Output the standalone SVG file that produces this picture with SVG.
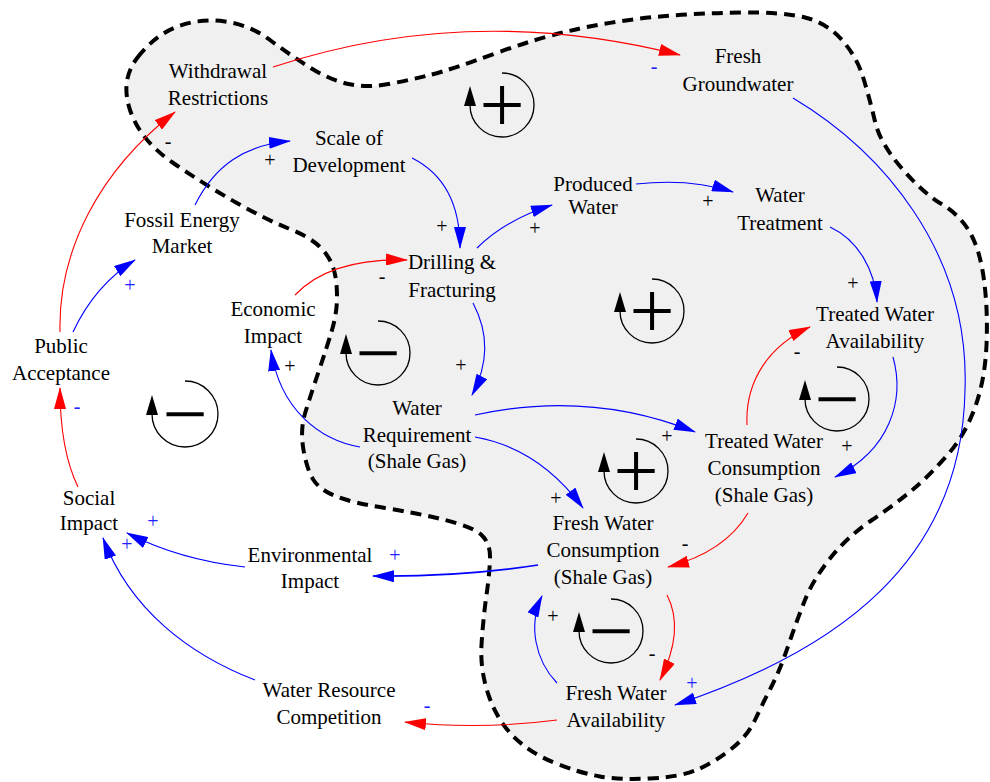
<svg xmlns="http://www.w3.org/2000/svg" width="990" height="782" viewBox="0 0 990 782">
<defs>
<marker id="ab" markerUnits="userSpaceOnUse" markerWidth="22" markerHeight="12" refX="21" refY="6" orient="auto"><path d="M0,0 L22,6 L0,12 Z" fill="#0000ff"/></marker>
<marker id="ar" markerUnits="userSpaceOnUse" markerWidth="22" markerHeight="12" refX="21" refY="6" orient="auto"><path d="M0,0 L22,6 L0,12 Z" fill="#ff0000"/></marker>
</defs>
<rect width="990" height="782" fill="#fff"/>
<path id="boundary" d="M137.5,57.5 Q155,35 177.5,26.5 Q200,18 225,21.5 Q250,25 270,40 Q290,55 310,67.5 Q330,80 348.5,84 Q367,88 388.5,84 Q410,80 430,75 Q450,70 495,53.5 Q540,37 580,28.5 Q620,20 660,16.5 Q700,13 741.5,12.5 Q783,12 805,17.5 Q827,23 842,40 Q857,57 863.5,78.5 Q870,100 875,121.5 Q880,143 901.5,168 Q923,193 941.5,204 Q960,215 970,232.5 Q980,250 984,280 Q988,310 986.5,345 Q985,380 975,407.5 Q965,435 947.5,455 Q930,475 913.5,489 Q897,503 872,520 Q847,537 830,558.5 Q813,580 805,600 Q797,620 788.5,645 Q780,670 771.5,686.5 Q763,703 755,720 Q747,737 730,750 Q713,763 696.5,770 Q680,777 650,778.5 Q620,780 600,776.5 Q580,773 555,763 Q530,753 513.5,736.5 Q497,720 488.5,695 Q480,670 481.5,645 Q483,620 486.5,595 Q490,570 490,556.5 Q490,543 481.5,535 Q473,527 445,520 Q417,513 385,508 Q353,503 336.5,496.5 Q320,490 313.5,480 Q307,470 303.5,450 Q300,430 305,413.5 Q310,397 318.5,372 Q327,347 332,330 Q337,313 337,296.5 Q337,280 333.5,268.5 Q330,257 320,247 Q310,237 288.5,228.5 Q267,220 236,202.5 Q205,185 172.5,162.5 Q140,140 130,110 Q120,80 137.5,57.5 Z" fill="#f0f0f0" stroke="#000" stroke-width="4" stroke-dasharray="11,7"/>
<g id="connectors" fill="none" stroke-width="1.1">
<g stroke="#ff0000" marker-end="url(#ar)">
<path d="M273,67 Q470,2 680,55"/>
<path d="M60,332 C58,250 100,170 175,112"/>
<path d="M295,295 Q330,258 407,260"/>
<path d="M747,425 C745,380 770,345 810,327"/>
<path d="M748,513 Q725,552 668,567"/>
<path d="M78,487 Q60,450 60,388"/>
<path d="M667,595 C680,620 675,650 660,680"/>
<path d="M557,720 Q480,730 405,722"/>
</g>
<g stroke="#0000ff" marker-end="url(#ab)">
<path d="M195,205 C215,165 245,145 290,141"/>
<path d="M73,332 Q95,285 135,260"/>
<path d="M412,158 C440,172 460,200 460,248"/>
<path d="M477,248 Q505,220 552,205"/>
<path d="M636,184 Q690,178 733,192"/>
<path d="M830,227 C858,240 875,270 877,302"/>
<path d="M473,303 C490,335 488,365 472,395"/>
<path d="M360,447 C320,440 280,410 271,350"/>
<path d="M475,415 Q590,390 695,432"/>
<path d="M475,437 C520,445 555,470 583,508"/>
<path d="M893,357 C905,400 890,450 835,477"/>
<path d="M538,565 Q460,577 373,576" stroke-width="1.6"/>
<path d="M245,567 Q180,560 127,533"/>
<path d="M255,680 C190,655 130,610 103,538"/>
<path d="M557,683 C535,660 528,625 542,596"/>
<path d="M793,98 C880,150 970,250 965,390 C962,560 840,650 675,705"/>
</g>
</g>
<g id="polarities" font-family="Liberation Serif" font-size="20" text-anchor="middle">
<g fill="#000">
<text x="168" y="148">-</text>
<text x="270" y="167">+</text>
<text x="442" y="233">+</text>
<text x="382" y="283">-</text>
<text x="535" y="235">+</text>
<text x="708" y="208">+</text>
<text x="853" y="290">+</text>
<text x="461" y="372">+</text>
<text x="290" y="373">+</text>
<text x="667" y="443">+</text>
<text x="556" y="505">+</text>
<text x="797" y="358">-</text>
<text x="847" y="453">+</text>
<text x="685" y="550">-</text>
<text x="652" y="660">-</text>
<text x="553" y="623">+</text>
</g>
<g fill="#2020ff">
<text x="654" y="73">-</text>
<text x="130" y="292">+</text>
<text x="395" y="562">+</text>
<text x="153" y="528">+</text>
<text x="127" y="551">+</text>
<text x="77" y="413">-</text>
<text x="427" y="712">-</text>
<text x="692" y="690">+</text>
</g>
</g>
<g id="loops" font-family="Liberation Serif" font-size="80" text-anchor="middle" fill="#000">
<g id="loop1"><path fill="none" stroke="#000" stroke-width="1.3" d="M470,105 A32,32 0 1 0 502,73"/><polygon points="470,86 464,106 476,106"/><text x="502" y="132">+</text></g>
<g id="loop2"><path fill="none" stroke="#000" stroke-width="1.3" d="M620,311 A32,32 0 1 0 652,279"/><polygon points="620,292 614,312 626,312"/><text x="652" y="338">+</text></g>
<g id="loop3"><path fill="none" stroke="#000" stroke-width="1.3" d="M346,353 A32,32 0 1 0 378,321"/><polygon points="346,334 340,354 352,354"/><text x="378" y="380">−</text></g>
<g id="loop4"><path fill="none" stroke="#000" stroke-width="1.3" d="M152,414 A33,33 0 1 0 185,381"/><polygon points="152,395 146,415 158,415"/><text x="185" y="441">−</text></g>
<g id="loop5"><path fill="none" stroke="#000" stroke-width="1.3" d="M805,399 A32,32 0 1 0 837,367"/><polygon points="805,380 799,400 811,400"/><text x="837" y="426">−</text></g>
<g id="loop6"><path fill="none" stroke="#000" stroke-width="1.3" d="M604,471 A32,32 0 1 0 636,439"/><polygon points="604,452 598,472 610,472"/><text x="636" y="498">+</text></g>
<g id="loop7"><path fill="none" stroke="#000" stroke-width="1.3" d="M579,631 A32,32 0 1 0 611,599"/><polygon points="579,612 573,632 585,632"/><text x="611" y="658">−</text></g>
</g>
<g id="nodes" font-family="Liberation Serif" font-size="21" text-anchor="middle" fill="#000">
<g id="withdrawal_restrictions"><text x="218" y="78">Withdrawal</text><text x="218" y="105">Restrictions</text></g>
<g id="fresh_groundwater"><text x="738" y="63">Fresh</text><text x="738" y="91">Groundwater</text></g>
<g id="scale_of_development"><text x="349" y="145">Scale of</text><text x="349" y="172">Development</text></g>
<g id="fossil_energy_market"><text x="182" y="227">Fossil Energy</text><text x="182" y="253">Market</text></g>
<g id="economic_impact"><text x="273" y="316">Economic</text><text x="273" y="343">Impact</text></g>
<g id="public_acceptance"><text x="61" y="353">Public</text><text x="61" y="380">Acceptance</text></g>
<g id="social_impact"><text x="89" y="505">Social</text><text x="89" y="530">Impact</text></g>
<g id="environmental_impact"><text x="310" y="562">Environmental</text><text x="310" y="588">Impact</text></g>
<g id="water_resource_competition"><text x="329" y="697">Water Resource</text><text x="329" y="724">Competition</text></g>
<g id="drilling_fracturing"><text x="452" y="269">Drilling &amp;</text><text x="452" y="297">Fracturing</text></g>
<g id="produced_water"><text x="593" y="191">Produced</text><text x="593" y="214">Water</text></g>
<g id="water_treatment"><text x="780" y="202">Water</text><text x="780" y="230">Treatment</text></g>
<g id="treated_water_availability"><text x="875" y="321">Treated Water</text><text x="875" y="348">Availability</text></g>
<g id="water_requirement"><text x="417" y="415">Water</text><text x="417" y="442">Requirement</text><text x="417" y="468">(Shale Gas)</text></g>
<g id="treated_water_consumption"><text x="764" y="448">Treated Water</text><text x="764" y="475">Consumption</text><text x="764" y="502">(Shale Gas)</text></g>
<g id="fresh_water_consumption"><text x="603" y="530">Fresh Water</text><text x="603" y="557">Consumption</text><text x="603" y="584">(Shale Gas)</text></g>
<g id="fresh_water_availability"><text x="616" y="700">Fresh Water</text><text x="616" y="727">Availability</text></g>
</g>
</svg>
